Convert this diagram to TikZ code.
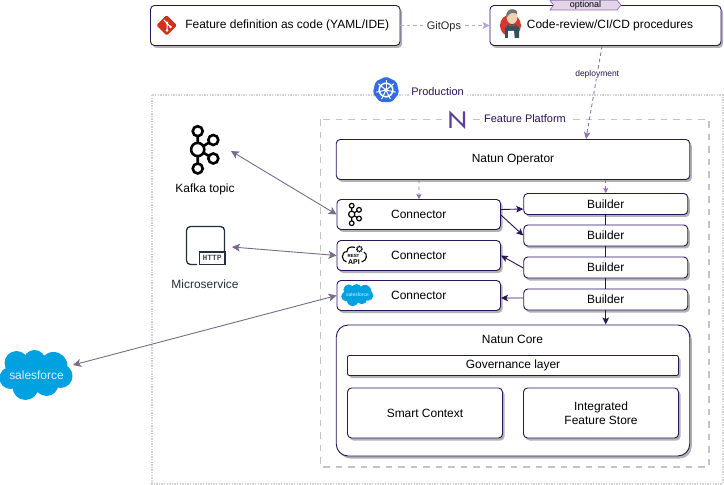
\documentclass[tikz,border=0pt]{standalone}
\usepackage{fontspec}
\setmainfont{Liberation Sans}
\setmonofont{Liberation Mono}
\usetikzlibrary{calc,arrows.meta,shadows}
\definecolor{inkline}{HTML}{2A1458}
\definecolor{softline}{HTML}{B8A6D4}
\definecolor{deployline}{HTML}{8F6FB0}
\definecolor{linkline}{HTML}{7A6A8C}
\definecolor{boundgray}{HTML}{C4C4C4}
\definecolor{dotgray}{HTML}{D2D2D2}
\definecolor{tagfill}{HTML}{E1D5E7}
\definecolor{sfblue}{HTML}{00A1E0}
\definecolor{kubeblue}{HTML}{326CE5}
\definecolor{awsdark}{HTML}{232F3E}
\definecolor{gitred}{HTML}{D0301C}
\definecolor{natunpurple}{HTML}{5F3F9E}
\definecolor{jenkred}{HTML}{D33833}
\definecolor{jenkblue}{HTML}{335061}
\definecolor{jenkskin}{HTML}{EFD2B4}
\tikzset{
	cardbox/.style={draw=inkline, fill=white, line width=0.9bp, rounded corners=4bp, inner sep=0pt,
		font=\fontsize{12}{14.5}\selectfont, align=center,
		drop shadow={shadow xshift=2bp, shadow yshift=-2.5bp, fill=black!30, opacity=1}},
	softflow/.style={draw=softline, line width=0.9bp, dash pattern=on 3.5bp off 3bp,
		-{Stealth[length=7bp,width=7bp,inset=1.5bp]}},
	deployflow/.style={draw=deployline, line width=0.9bp, dash pattern=on 3.5bp off 3bp,
		-{Stealth[length=7bp,width=6.5bp,inset=1.5bp]}},
	stubflow/.style={draw=deployline, line width=0.9bp, dash pattern=on 3.5bp off 3bp,
		-{Stealth[length=5bp,width=5bp,inset=1bp]}},
	inkflow/.style={draw=inkline, line width=0.9bp, -{Stealth[length=7bp,width=6.5bp,inset=1.5bp]}},
	linkflow/.style={draw=linkline, line width=0.9bp,
		{Stealth[length=8bp,width=8bp,inset=2bp]}-{Stealth[length=8bp,width=8bp,inset=2bp]}},
	boundtitle/.style={fill=white, inner xsep=2bp, inner ysep=1bp, text=inkline, font=\fontsize{11}{13}\selectfont},
	looselabel/.style={inner sep=0pt, font=\fontsize{12}{14}\selectfont}
}
\def\kafkaicon(#1,#2)(#3)(#4){
	\begin{scope}[shift={(#1,#2)}, scale=#3, line width=#4, draw=black]
		\draw (0,-18.3) -- (0,19) (0,0) -- (15.6,-9.5) (0,0) -- (15.6,9);
		\draw[fill=white] (0,-18.3) circle (5) (0,19) circle (5) (15.6,-9.5) circle (5) (15.6,9) circle (5);
		\draw[fill=white] (0,0) circle (6.6);
	\end{scope}}
\def\sfcloud(#1,#2)(#3)(#4){
	\begin{scope}[shift={(#1,#2)}, scale=#3]
		\fill[sfblue] (-20,-12) circle (12) (-2,-14) circle (11) (17,-9) circle (14) (24,1) circle (12)
			(-26,3) circle (11) (-11,12) circle (13) (10,9) circle (12) (-5,0) circle (15) (4,2) circle (15);
		\node[white!85!sfblue, inner sep=0pt, font=#4] at (0,0) {salesforce};
	\end{scope}}
\begin{document}
\begin{tikzpicture}[x=1bp, y=-1bp]
	\useasboundingbox (0,0) rectangle (724,485);
	%%%%% BOUNDARIES %%%%%
	\draw[dotgray, line width=2bp, dash pattern=on 1.4bp off 1.2bp] (152,95) rectangle (722.5,483.5);
	\draw[boundgray, line width=1.6bp, dash pattern=on 6.5bp off 6bp] (320.5,119.5) rectangle (709,467);
	\node[boundtitle] (titleProd) at (437.5,92) {Production};
	\node[boundtitle] (titlePlat) at (525,119) {Feature Platform};

	%%%%% BOXES %%%%%
	\node[cardbox, minimum width=249.5bp, minimum height=40bp] (boxGit) at (275.25,25.5) {\hspace{24bp}Feature definition as code (YAML/IDE)};
	\node[cardbox, minimum width=231bp, minimum height=40bp] (boxCicd) at (605.5,25.5) {\hspace{9bp}Code-review/CI/CD procedures};
	\node[cardbox, minimum width=353.5bp, minimum height=40bp] (operator) at (513,159.5) {\raisebox{-0.7bp}{Natun Operator}};

	\node[cardbox, minimum width=163.5bp, minimum height=30bp] (connKafka) at (418.75,214.5) {Connector};
	\node[cardbox, minimum width=163.5bp, minimum height=30bp] (connRest) at (418.75,255.5) {Connector};
	\node[cardbox, minimum width=163.5bp, minimum height=30bp] (connSales) at (418.75,295.5) {Connector};

	\node[cardbox, minimum width=164bp, minimum height=21bp] (builderA) at (605.75,204) {Builder};
	\node[cardbox, minimum width=164bp, minimum height=21bp] (builderB) at (605.75,235.5) {Builder};
	\node[cardbox, minimum width=164bp, minimum height=21bp] (builderC) at (605.75,267.5) {Builder};
	\node[cardbox, minimum width=164bp, minimum height=21bp] (builderD) at (605.75,299.5) {Builder};

	\node[cardbox, rounded corners=12bp, minimum width=353.5bp, minimum height=131bp] (core) at (513,390.5) {};
	\node[looselabel] (coreTitle) at (512.5,339) {Natun Core};
	\node[cardbox, rounded corners=2bp, minimum width=331bp, minimum height=20bp] (govern) at (513,365.5) {Governance layer};
	\node[cardbox, minimum width=155bp, minimum height=50bp] (context) at (425,413) {Smart Context};
	\node[cardbox, minimum width=155bp, minimum height=50bp] (store) at (601,413) {Integrated\\Feature Store};

	\draw[draw=deployline, fill=tagfill, line width=0.7bp] (550,0.3) -- (617,0.3) -- (621,5) -- (617,10) -- (550,10) -- (553.5,5) -- cycle;
	\node[inner sep=0pt, font=\fontsize{9}{10}\selectfont] (tagOptional) at (585.5,5) {optional};

	%%%%% LABELS %%%%%
	\node[looselabel] (kafkaLabel) at (205,189.5) {Kafka topic};
	\node[looselabel, text=awsdark] (httpLabel) at (205,284) {Microservice};
	\coordinate (kafkaEnd) at (231,151);
	\coordinate (httpEnd) at (232,247);
	\coordinate (salesEnd) at (73,365);

	%%%%% FLOWS %%%%%
	\draw[softflow] (boxGit) -- (boxCicd) node[midway, xshift=-1bp, yshift=-0.7bp, fill=white, inner xsep=1bp, inner ysep=0pt, text=black!85, font=\fontsize{11}{13}\selectfont] (gitopsLabel) {GitOps};
	\draw[deployflow] ($(boxCicd.south)+(-3.5,0)$) -- ($(operator.north)+(73,0)$) node[pos=0.3, fill=white, inner sep=1bp, text=inkline, font=\fontsize{8.5}{10}\selectfont] (deployLabel) {deployment};
	\draw[stubflow] ($(operator.south)+(-94,0)$) -- ($(connKafka.north)+(0.25,0)$);
	\draw[stubflow] (builderA.north |- operator.south) -- (builderA.north);

	\draw[inkflow] ($(connKafka.east)+(0,-5)$) -- ($(builderA.west)+(0,5)$);
	\draw[inkflow] ($(connKafka.east)+(0,0.5)$) -- (builderB.west);
	\draw[inkflow] ($(builderC.west)+(0,0.5)$) -- ($(connRest.east)+(0,0)$);
	\draw[inkflow] ($(builderD.west)+(0,-1.5)$) -- ($(connSales.east)+(0,2.5)$);
	\draw[draw=inkline, line width=0.9bp] (builderA) -- (builderB);
	\draw[draw=inkline, line width=0.9bp] (builderB) -- (builderC);
	\draw[draw=inkline, line width=0.9bp] (builderC) -- (builderD);
	\draw[inkflow, line width=1.3bp] (builderD.south) -- (builderD.south |- core.north);

	\draw[linkflow] (kafkaEnd) -- (connKafka.west);
	\draw[linkflow] (httpEnd) -- (connRest.west);
	\draw[linkflow] (salesEnd) -- (connSales.west);

	%%%%% ICONS %%%%%
	\kafkaicon(197.7,149.5)(1)(2.6bp)
	\kafkaicon(351.7,214.3)(0.47)(1.2bp)
	\sfcloud(36.5,375)(1)(\fontsize{12}{14}\selectfont)
	\sfcloud(357.5,295)(0.44)(\fontsize{5}{6}\selectfont)

	% microservice
	\draw[awsdark, line width=1.3bp, rounded corners=4bp] (197,264.5) -- (186.5,264.5) -- (186.5,226.5) -- (224.5,226.5) -- (224.5,251);
	\draw[awsdark, line width=1.3bp, fill=white] (199.5,252) rectangle (225,264.5);
	\node[inner sep=0pt, text=awsdark!85, font=\ttfamily\bfseries\fontsize{8}{9}\selectfont] (httpTag) at (212.2,258.3) {HTTP};

	% rest api
	\draw[black, line width=1.1bp] (346.5,262) .. controls (341.5,261) and (340.5,252) .. (347,251.5) .. controls (347,247.5) and (351,246) .. (355,247.5);
	\draw[black, line width=1.1bp] (361.5,262) .. controls (367,261) and (368,254) .. (364,252);
	\draw[black, line width=1.6bp, dash pattern=on 1bp off 0.7bp, fill=white] (359.3,249) circle (2.6);
	\node[inner sep=0pt, font=\bfseries\fontsize{4.5}{4.5}\selectfont] (restTag) at (353.5,256) {REST};
	\node[inner sep=0pt, font=\bfseries\fontsize{7}{7}\selectfont] (apiTag) at (354,262.3) {API};

	% git
	\fill[gitred, rounded corners=1.5bp] (166.7,15) -- (177,25.3) -- (166.7,35.6) -- (156.4,25.3) -- cycle;
	\draw[white, line width=1bp] (164,20) -- (170.5,27) (167,23) -- (167,30.5);
	\fill[white] (167,23) circle (1.5) (170.5,27) circle (1.5) (167,30.5) circle (1.5);

	% kubernetes
	\fill[kubeblue, rounded corners=2bp] (386,76.5) \foreach \a in {1,...,6} { -- ({386+13.5*sin(\a*360/7)},{90-13.5*cos(\a*360/7)}) } -- cycle;
	\draw[white, line width=1.6bp] (386,90) circle (6.8);
	\foreach \a in {0,...,6} \draw[white, line width=1bp] (386,90) -- ({386+10*sin(\a*360/7)},{90-10*cos(\a*360/7)});
	\fill[white] (386,90) circle (1.8);

	% natun
	\fill[white] (442,110) rectangle (470,129);
	\draw[natunpurple, line width=2.1bp] (450.5,128) -- (450.5,113) -- (464,126.5) -- (464,111.5);

	% jenkins
	\fill[jenkred] (510.5,25.5) ellipse (10.5 and 11);
	\fill[jenkblue] (505,38) -- (505,28) -- (509,24) -- (515,24) -- (519,28) -- (519,38) -- cycle;
	\fill[white] (508,31) -- (514,31) -- (515,41) -- (508,41) -- cycle;
	\fill[jenkskin] (512,16.5) ellipse (5.5 and 7.5);
	\fill[black!55] (506.5,18) .. controls (505,11) and (510,8.5) .. (514,9.5) .. controls (517,10.5) and (518,12) .. (517,14) .. controls (513,11.5) and (509,13) .. (506.5,18) -- cycle;
	\fill[jenkred] (509,24) -- (512,25.2) -- (515,24) -- (515,26.5) -- (512,25.8) -- (509,26.5) -- cycle;
\end{tikzpicture}
\end{document}
